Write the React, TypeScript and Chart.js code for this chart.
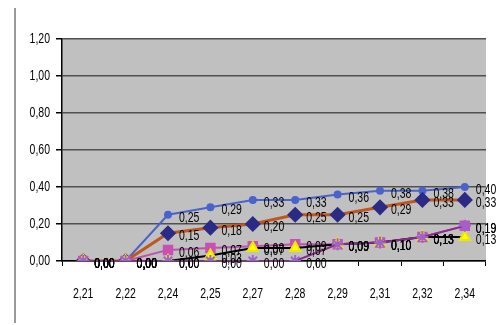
import React, { useEffect, useRef } from "react";
import { Chart, registerables } from "chart.js";

Chart.register(...registerables);

const categories = ["2,21", "2,22", "2,24", "2,25", "2,27", "2,28", "2,29", "2,31", "2,32", "2,34"];
const yTicks = [0, 0.2, 0.4, 0.6, 0.8, 1.0, 1.2];

const seriesBlue = [0, 0, 0.25, 0.29, 0.33, 0.33, 0.36, 0.38, 0.38, 0.4];
const seriesDiamond = [0, 0, 0.15, 0.18, 0.2, 0.25, 0.25, 0.29, 0.33, 0.33];
const seriesMagenta = [0, 0, 0.06, 0.07, 0.08, 0.09, 0.09, 0.1, 0.13, 0.19];
const seriesYellow = [0, 0, 0, 0.03, 0.07, 0.07, 0.09, 0.1, 0.13, 0.13];
const seriesPurple = [0, 0, 0, 0, 0, 0, 0.09, 0.1, 0.13, 0.19];

const FONT = "'Liberation Sans', Arial, sans-serif";
const SX = 0.7;

const fmt = (v: number) => v.toFixed(2).replace(".", ",");

function squeezedText(ctx: any, text: string, x: number, y: number, align: string) {
  ctx.save();
  ctx.translate(x, y);
  ctx.scale(SX, 1);
  ctx.textAlign = align;
  ctx.fillText(text, 0, 0);
  ctx.restore();
}

const plotBg = {
  id: "plotBg",
  beforeDraw(chart: any) {
    const { ctx, chartArea } = chart;
    ctx.save();
    ctx.fillStyle = "#C0C0C0";
    ctx.fillRect(chartArea.left, chartArea.top, chartArea.right - chartArea.left, chartArea.bottom - chartArea.top);
    ctx.restore();
  },
  afterDraw(chart: any) {
    const { ctx } = chart;
    ctx.save();
    ctx.strokeStyle = "#9A9A9A";
    ctx.lineWidth = 2;
    ctx.beginPath();
    ctx.moveTo(15, 8);
    ctx.lineTo(15, 323);
    ctx.stroke();
    // axis tick labels
    ctx.font = `15px ${FONT}`;
    ctx.fillStyle = "#000000";
    ctx.textBaseline = "middle";
    const ys = chart.scales.y;
    yTicks.forEach((v) => {
      squeezedText(ctx, fmt(v), 50, ys.getPixelForValue(v), "right");
    });
    const xs = chart.scales.x;
    categories.forEach((c, i) => {
      squeezedText(ctx, c, xs.getPixelForValue(i), 294, "center");
    });
    ctx.restore();
  },
};

const dataLabels = {
  id: "dataLabels",
  afterDatasetsDraw(chart: any) {
    const { ctx } = chart;
    ctx.save();
    ctx.font = `15px ${FONT}`;
    ctx.fillStyle = "#000000";
    ctx.textBaseline = "middle";
    chart.data.datasets.forEach((ds: any, i: number) => {
      const meta = chart.getDatasetMeta(i);
      meta.data.forEach((pt: any, j: number) => {
        const v = ds.data[j];
        if (v === null || v === undefined) return;
        squeezedText(ctx, fmt(v), pt.x + 11, pt.y + 3, "left");
      });
    });
    ctx.restore();
  },
};

export default function App() {
  const ref = useRef<HTMLCanvasElement>(null);

  useEffect(() => {
    if (!ref.current) return;
    const chart = new Chart(ref.current, {
      type: "line",
      data: {
        labels: categories,
        datasets: [
          {
            label: "S1",
            data: seriesBlue,
            borderColor: "#4A63CC",
            backgroundColor: "#4A63CC",
            borderWidth: 2,
            pointStyle: "circle",
            pointRadius: 3,
            order: 5,
          },
          {
            label: "S2",
            data: seriesDiamond,
            borderColor: "#C0561E",
            backgroundColor: "#2B2B85",
            pointBorderColor: "#2B2B85",
            borderWidth: 3,
            pointStyle: "rectRot",
            pointRadius: 6,
            order: 4,
          },
          {
            label: "S3",
            data: seriesMagenta,
            borderColor: "#C050B0",
            backgroundColor: "#C850B4",
            pointBorderColor: "#C850B4",
            borderWidth: 2,
            pointStyle: "rect",
            pointRadius: 6,
            order: 3,
          },
          {
            label: "S4",
            data: seriesYellow,
            borderColor: "#000000",
            backgroundColor: "#FFFF00",
            pointBorderColor: "#E8E800",
            borderWidth: 2,
            pointStyle: "triangle",
            pointRadius: 6,
            order: 2,
          },
          {
            label: "S5",
            data: seriesPurple,
            borderColor: "#8A2A8A",
            backgroundColor: "#A060D0",
            pointBorderColor: "#A060D0",
            pointBorderWidth: 2,
            borderWidth: 2,
            pointStyle: "star",
            pointRadius: 6,
            order: 1,
          },
        ],
      },
      options: {
        animation: false,
        responsive: false,
        maintainAspectRatio: false,
        layout: { padding: { left: 0, top: 39, right: 11, bottom: 0 } },
        plugins: { legend: { display: false }, tooltip: { enabled: false } },
        scales: {
          x: {
            type: "category",
            offset: true,
            afterFit: (s: any) => {
              s.height = 64;
            },
            grid: {
              offset: true,
              drawOnChartArea: false,
              drawTicks: true,
              tickLength: 5,
              tickColor: "#000000",
              lineWidth: 1,
            },
            border: { display: true, color: "#000000", width: 1.5 },
            ticks: {
              padding: 20,
              color: "rgba(0,0,0,0)",
              font: { family: FONT, size: 13 },
              maxRotation: 0,
              autoSkip: false,
            },
          },
          y: {
            min: 0,
            max: 1.2,
            afterFit: (s: any) => {
              s.width = 62;
            },
            afterBuildTicks: (s: any) => {
              s.ticks = yTicks.map((v) => ({ value: v }));
            },
            grid: {
              color: "#505050",
              lineWidth: 1.5,
              drawTicks: true,
              tickLength: 6,
              tickColor: "#000000",
            },
            border: { display: true, color: "#000000", width: 1.5 },
            ticks: {
              padding: 6,
              color: "rgba(0,0,0,0)",
              font: { family: FONT, size: 13 },
              callback: (v: any) => fmt(Number(v)),
            },
          },
        },
      },
      plugins: [plotBg, dataLabels],
    });
    return () => chart.destroy();
  }, []);

  return (
    <div style={{ position: "fixed", left: 0, top: 0, width: 498, height: 325, background: "#fff" }}>
      <canvas ref={ref} width={498} height={325} style={{ display: "block", width: 498, height: 325 }} />
    </div>
  );
}
